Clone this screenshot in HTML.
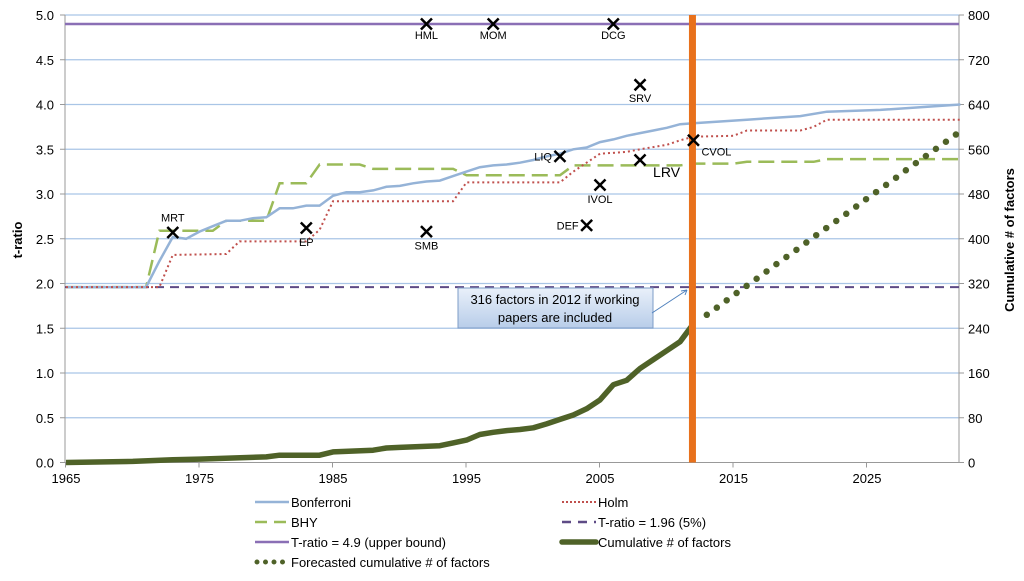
<!DOCTYPE html>
<html><head><meta charset="utf-8"><style>
body{margin:0;background:#fff;width:1024px;height:576px;overflow:hidden;font-family:"Liberation Sans",sans-serif}
svg text{font-family:"Liberation Sans",sans-serif}
</style></head><body>
<svg id="chart" width="1024" height="576" viewBox="0 0 1024 576"></svg>
<script>
const bonfYears=[1965,1971,1972,1973,1974,1975,1976,1977,1978,1979,1980,1981,1982,1983,1984,1985,1986,1987,1988,1989,1990,1991,1992,1993,1994,1995,1996,1997,1998,1999,2000,2001,2002,2003,2004,2005,2006,2007,2008,2009,2010,2011,2012,2016,2020,2022,2026,2032];
const bonfVals=[1.96,1.96,2.25,2.52,2.5,2.58,2.64,2.7,2.7,2.73,2.74,2.84,2.84,2.87,2.87,2.98,3.02,3.02,3.04,3.08,3.09,3.12,3.14,3.15,3.2,3.25,3.3,3.32,3.33,3.35,3.38,3.42,3.45,3.5,3.52,3.58,3.61,3.65,3.68,3.71,3.74,3.78,3.79,3.83,3.87,3.92,3.94,4.0];
const holmYears=[1965,1972,1973,1977,1978,1983,1984,1985,1994,1995,2002,2003,2004,2005,2007,2008,2010,2011,2012,2015,2016,2020,2021,2022,2032];
const holmVals=[1.96,1.96,2.32,2.33,2.47,2.47,2.6,2.92,2.92,3.13,3.13,3.25,3.35,3.45,3.47,3.5,3.55,3.6,3.64,3.65,3.71,3.71,3.75,3.83,3.83];
const bhyYears=[1965,1971,1972,1976,1977,1980,1981,1983,1984,1987,1988,1994,1995,2002,2003,2011,2012,2015,2016,2021,2022,2032];
const bhyVals=[1.96,1.96,2.59,2.59,2.7,2.7,3.12,3.12,3.33,3.33,3.28,3.28,3.21,3.21,3.32,3.32,3.34,3.34,3.36,3.36,3.39,3.39];
const cumYears=[1965,1970,1973,1975,1980,1981,1984,1985,1988,1989,1990,1993,1994,1995,1996,1997,1998,1999,2000,2001,2002,2003,2004,2005,2006,2007,2008,2009,2010,2011,2012];
const cumVals=[0,2,5,6,10,13,13,19,22,26,27,30,35,40,50,54,57,59,62,69,77,85,96,112,139,147,168,184,200,216,248];
const fcYears=[2013,2014,2015,2016,2017,2018,2019,2020,2021,2022,2023,2024,2025,2026,2027,2028,2029,2030,2031,2032];
const fcVals=[264,281,299,316,333,351,368,385,403,420,437,454,472,489,506,524,541,558,575,592];
const markerNames=["HML","MOM","DCG","SRV","MRT","EP","SMB","LIQ","IVOL","DEF","LRV","CVOL"];
const markerYears=[1992,1997,2006,2008,1973,1983,1992,2002,2005,2004,2008,2012];
const markerVals=[4.9,4.9,4.9,4.22,2.57,2.62,2.58,3.42,3.1,2.65,3.38,3.6];
const leftTicks=["0.0","0.5","1.0","1.5","2.0","2.5","3.0","3.5","4.0","4.5","5.0"];
const rightTicks=[0,80,160,240,320,400,480,560,640,720,800];
const xTicks=[1965,1975,1985,1995,2005,2015,2025];

const NS="http://www.w3.org/2000/svg";
const svg=document.getElementById('chart');
const X0=66,PX=13.35,Y0=462.5,PY=89.5,L=65,R=959;
const xs=y=>X0+(y-1965)*PX;
const ys=t=>Y0-t*PY;
const yr=v=>Y0-v/800*5*PY;
function el(tag,attrs,parent){const e=document.createElementNS(NS,tag);for(const k in attrs)e.setAttribute(k,attrs[k]);(parent||svg).appendChild(e);return e;}
function txt(s,attrs){const t=el('text',attrs);t.textContent=s;return t;}

leftTicks.forEach((lab,i)=>{const v=parseFloat(lab);
 if(v>0){const g=el('line',{x1:L,x2:R,y1:ys(v),y2:ys(v),stroke:'#a9c5e6','stroke-width':1.2});
 
 }
 const t=txt(lab,{x:54,y:ys(v)+5,'text-anchor':'end','font-size':13,fill:'#000'});
 
 
});
rightTicks.forEach(v=>{const t=txt(String(v),{x:968,y:yr(v)+5,'font-size':13,fill:'#000'});
 
 });
xTicks.forEach(y=>{const t=txt(String(y),{x:xs(y),y:483,'text-anchor':'middle','font-size':13});
 
 
 el('line',{x1:xs(y)-0.5,x2:xs(y)-0.5,y1:Y0,y2:Y0+5,stroke:'#999'});});
el('line',{x1:L,x2:L,y1:15,y2:Y0,stroke:'#999'});
el('line',{x1:R,x2:R,y1:15,y2:Y0,stroke:'#999'});
el('line',{x1:L-5,x2:R+5,y1:Y0,y2:Y0,stroke:'#999'});
for(const v of rightTicks)el('line',{x1:R,x2:R+5,y1:yr(v),y2:yr(v),stroke:'#999'});
for(const l of leftTicks)el('line',{x1:L-5,x2:L,y1:ys(+l),y2:ys(+l),stroke:'#999'});

const yt=txt('t-ratio',{x:0,y:0,transform:'translate(22,240) rotate(-90)','text-anchor':'middle','font-size':13,'font-weight':'bold'});


const yt2=txt('Cumulative # of factors',{x:0,y:0,transform:'translate(1014,240) rotate(-90)','text-anchor':'middle','font-size':13,'font-weight':'bold'});



const h1=el('line',{x1:L,x2:R,y1:ys(4.9),y2:ys(4.9),stroke:'#8a6fb5','stroke-width':2.5});


const h2=el('line',{x1:L,x2:R,y1:ys(1.96),y2:ys(1.96),stroke:'#5e4b86','stroke-width':2,'stroke-dasharray':'9 6'});



function path(xsArr,vals,f,attrs,name){
 const d=xsArr.map((y,i)=>(i?'L':'M')+xs(y).toFixed(1)+','+f(vals[i]).toFixed(1)).join('');
 const p=el('path',Object.assign({d,fill:'none'},attrs));
 
 
 return p;}
path(bhyYears,bhyVals,ys,{stroke:'#9bbb59','stroke-width':2.5,'stroke-dasharray':'16 7'},'bhy-line');
path(bonfYears,bonfVals,ys,{stroke:'#95b3d7','stroke-width':2.5},'bonferroni-line');
path(holmYears,holmVals,ys,{stroke:'#c0504d','stroke-width':2,'stroke-dasharray':'2 3'},'holm-line');
path(cumYears,cumVals,yr,{stroke:'#4f6228','stroke-width':5.5,'stroke-linejoin':'round'},'cumulative-line');
path(fcYears,fcVals,yr,{stroke:'#4f6228','stroke-width':6.5,'stroke-linecap':'round','stroke-dasharray':'0 12.3'},'forecast-line');

const ob=el('rect',{x:xs(2012)-4.5,y:15,width:7,height:Y0-15,fill:'#e8711c'});



const defs=el('defs',{});
const lg=el('linearGradient',{id:'cg',x1:0,y1:0,x2:0,y2:1},defs);
el('stop',{offset:0,'stop-color':'#e9f0fa'},lg);el('stop',{offset:1,'stop-color':'#b8cde9'},lg);
const cb=el('rect',{x:458,y:288,width:195,height:40,fill:'url(#cg)',stroke:'#7d9cc7','stroke-width':1});


el('line',{x1:652,y1:313,x2:687,y2:290,stroke:'#4f81bd','stroke-width':1});
el('path',{d:'M687,290 l-6,1 M687,290 l-2,5',stroke:'#4f81bd','stroke-width':1,fill:'none'});
txt('316  factors in 2012 if  working',{x:555,y:304,'text-anchor':'middle','font-size':13});
txt('papers are included',{x:555,y:322,'text-anchor':'middle','font-size':13});

const off={HML:[0,15,'middle'],MOM:[0,15,'middle'],DCG:[0,15,'middle'],SRV:[0,17,'middle'],MRT:[0,-11,'middle'],EP:[0,18,'middle'],SMB:[0,18,'middle'],LIQ:[-8,4,'end'],IVOL:[0,18,'middle'],DEF:[-8,4,'end'],LRV:[13,17,'start'],CVOL:[8,15,'start']};
markerNames.forEach((n,i)=>{const cx=xs(markerYears[i]),cy=ys(markerVals[i]);
 const g=el('g',{});
 
 
 el('path',{d:`M${cx-5.5},${cy-5.5}L${cx+5.5},${cy+5.5}M${cx+5.5},${cy-5.5}L${cx-5.5},${cy+5.5}`,stroke:'#000','stroke-width':2.5},g);
 const o=off[n];const fs=(n==='LRV')?14:11;
 const t=el('text',{x:cx+o[0],y:cy+o[1],'text-anchor':o[2],'font-size':fs},g);t.textContent=n;});

const leg=[["Bonferroni",255,507,{stroke:'#95b3d7','stroke-width':2.5}],["Holm",562,507,{stroke:'#c0504d','stroke-width':2,'stroke-dasharray':'2 2'}],
["BHY",255,527,{stroke:'#9bbb59','stroke-width':2.5,'stroke-dasharray':'12 7'}],["T-ratio = 1.96 (5%)",562,527,{stroke:'#5e4b86','stroke-width':2.5,'stroke-dasharray':'9 7'}],
["T-ratio = 4.9 (upper bound)",255,547,{stroke:'#8a6fb5','stroke-width':2.5}],["Cumulative # of factors",562,547,{stroke:'#4f6228','stroke-width':5.5,'stroke-linecap':'round'}],
["Forecasted cumulative # of factors",255,567,{stroke:'#4f6228','stroke-width':5,'stroke-linecap':'round','stroke-dasharray':'0 8.5'}]];
leg.forEach(l=>{const g=el('g',{});
 
 
 el('line',Object.assign({x1:l[1]+(l[0].startsWith('Forecast')?2:0),x2:l[1]+34,y1:l[2]-5,y2:l[2]-5},l[3]),g);
 const t=el('text',{x:l[1]+36,y:l[2],'font-size':13},g);t.textContent=l[0];});
</script>
</body></html>
